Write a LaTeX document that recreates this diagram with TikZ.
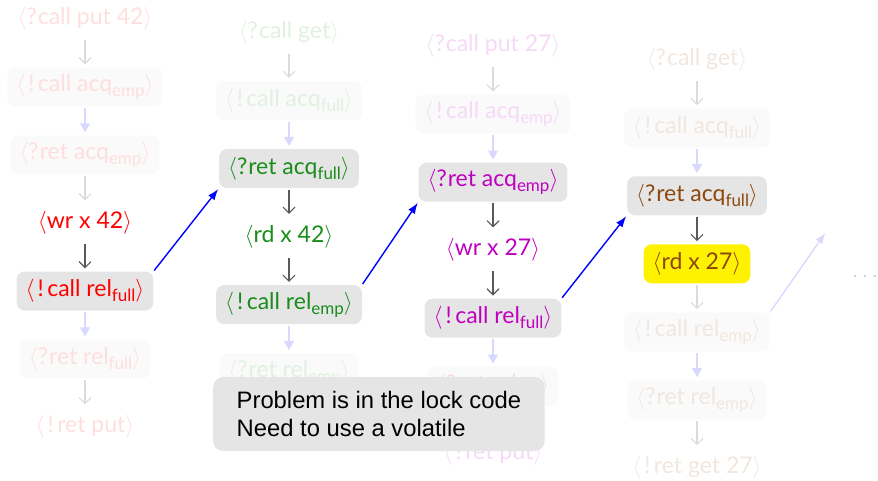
\RequirePackage{fix-cm}
\documentclass[tikz,border=0pt]{standalone}
\usepackage{fontspec}
\newfontfamily\helv{Liberation Sans}
\newfontfamily\lato{Lato}
\usetikzlibrary{arrows.meta}

\definecolor{cgreen}{rgb}{0.1,0.55,0.1}
\definecolor{cmag}{rgb}{0.75,0,0.75}
\definecolor{cbrown}{rgb}{0.55,0.28,0.05}

% event label: <...>
\newcommand\evt[1]{$\langle$#1$\rangle$}
\newcommand\snd{\kern3pt!\kern3.5pt}
\newcommand\rcv{?\kern1pt}
\newcommand\lsub[1]{\raisebox{-5pt}{\fontsize{17}{17}\selectfont #1}}

\tikzset{
  ev/.style={font=\lato\fontsize{23}{27}\selectfont, minimum height=39pt,
    inner xsep=9pt, inner ysep=0pt, rounded corners=8pt},
  boxon/.style={ev, fill=black!10},
  boxoff/.style={ev, fill=black!2},
  hilite/.style={ev, fill=yellow},
  seqon/.style={draw=black!65, line width=1.1pt, -{Straight Barb[length=6pt,width=12pt]},
    shorten <=1.5pt, shorten >=3pt},
  seqoff/.style={seqon, draw=black!14},
  synoff/.style={draw=blue!15, line width=1.1pt, -{Triangle[length=9pt,width=10pt]},
    shorten <=1.5pt, shorten >=3pt},
  hb/.style={draw=blue, line width=1.4pt, -{Latex[length=11pt,width=8pt]},
    shorten <=1pt, shorten >=1pt},
  hboff/.style={hb, draw=blue!15},
}

\begin{document}
\begin{tikzpicture}[x=1pt,y=-1pt]
\useasboundingbox (0,0) rectangle (878,480);

% first thread: put 42
\node[ev, text=red!13]     (a0) at (85,19)  {\evt{\rcv call put 42}};
\node[boxoff, text=red!13] (a1) at (85,87)  {\evt{\snd call acq\lsub{emp}}};
\node[boxoff, text=red!13] (a2) at (85,155) {\evt{\rcv ret acq\lsub{emp}}};
\node[ev, text=red]        (a3) at (85,223) {\evt{wr x 42}};
\node[boxon, text=red]     (a4) at (85,291) {\evt{\snd call rel\lsub{full}}};
\node[boxoff, text=red!13] (a5) at (85,359) {\evt{\rcv ret rel\lsub{full}}};
\node[ev, text=red!13]     (a6) at (85,427) {\evt{\snd ret put}};

% second thread: get
\node[ev, text=cgreen!13]     (b0) at (289,32.6)  {\evt{\rcv call get}};
\node[boxoff, text=cgreen!13] (b1) at (289,100.6) {\evt{\snd call acq\lsub{full}}};
\node[boxon, text=cgreen]     (b2) at (289,168.6) {\evt{\rcv ret acq\lsub{full}}};
\node[ev, text=cgreen]        (b3) at (289,236.6) {\evt{rd x 42}};
\node[boxon, text=cgreen]     (b4) at (289,304.6) {\evt{\snd call rel\lsub{emp}}};
\node[boxoff, text=cgreen!13] (b5) at (289,372.6) {\evt{\rcv ret rel\lsub{emp}}};
\node[ev, text=cgreen!13]     (b6) at (289,440.6) {\evt{\snd ret get 42}};

% third thread: put 27
\node[ev, text=cmag!15]     (c0) at (493,46.2)  {\evt{\rcv call put 27}};
\node[boxoff, text=cmag!15] (c1) at (493,114.2) {\evt{\snd call acq\lsub{emp}}};
\node[boxon, text=cmag]     (c2) at (493,182.2) {\evt{\rcv ret acq\lsub{emp}}};
\node[ev, text=cmag]        (c3) at (493,250.2) {\evt{wr x 27}};
\node[boxon, text=cmag]     (c4) at (493,318.2) {\evt{\snd call rel\lsub{full}}};
\node[boxoff, text=cmag!15] (c5) at (493,386.2) {\evt{\rcv ret rel\lsub{full}}};
\node[ev, text=cmag!15]     (c6) at (493,454.2) {\evt{\snd ret put}};

% fourth thread: get
\node[ev, text=cbrown!13]     (d0) at (697,59.8)  {\evt{\rcv call get}};
\node[boxoff, text=cbrown!13] (d1) at (697,127.8) {\evt{\snd call acq\lsub{full}}};
\node[boxon, text=cbrown]     (d2) at (697,195.8) {\evt{\rcv ret acq\lsub{full}}};
\node[hilite, text=cbrown]    (d3) at (697,263.8) {\evt{rd x 27}};
\node[boxoff, text=cbrown!13] (d4) at (697,331.8) {\evt{\snd call rel\lsub{emp}}};
\node[boxoff, text=cbrown!13] (d5) at (697,399.8) {\evt{\rcv ret rel\lsub{emp}}};
\node[ev, text=cbrown!13]     (d6) at (697,467.8) {\evt{\snd ret get 27}};

\node[ev, text=black!22, font=\fontsize{22.5}{27}\selectfont] (more) at (865,276) {$\ldots$};
\coordinate (nxt) at (826,232);

% program order inside each thread
\draw[seqoff] (a0) -- (a1);  \draw[synoff] (a1) -- (a2);
\draw[seqoff] (a2) -- (a3);  \draw[seqon]  (a3) -- (a4);
\draw[synoff] (a4) -- (a5);  \draw[seqoff] (a5) -- (a6);

\draw[seqoff] (b0) -- (b1);  \draw[synoff] (b1) -- (b2);
\draw[seqon]  (b2) -- (b3);  \draw[seqon]  (b3) -- (b4);
\draw[synoff] (b4) -- (b5);  \draw[seqoff] (b5) -- (b6);

\draw[seqoff] (c0) -- (c1);  \draw[synoff] (c1) -- (c2);
\draw[seqon]  (c2) -- (c3);  \draw[seqon]  (c3) -- (c4);
\draw[synoff] (c4) -- (c5);  \draw[seqoff] (c5) -- (c6);

\draw[seqoff] (d0) -- (d1);  \draw[synoff] (d1) -- (d2);
\draw[seqon]  (d2) -- (d3);  \draw[seqoff] (d3) -- (d4);
\draw[synoff] (d4) -- (d5);  \draw[seqoff] (d5) -- (d6);

% lock hand-over between threads
\draw[hb] (a4.north east) -- (b2.south west);
\draw[hb] (b4.north east) -- (c2.south west);
\draw[hb] (c4.north east) -- (d2.south west);
\draw[hboff] (d4.north east) -- (nxt);

% remark
\node[anchor=west, fill=black!10, rounded corners=10pt, minimum height=74pt,
  inner xsep=23.5pt, align=left, font=\helv\fontsize{23.8}{28}\selectfont]
  (note) at (213,414) {Problem is in the lock code\\Need to use a volatile};
\end{tikzpicture}
\end{document}
